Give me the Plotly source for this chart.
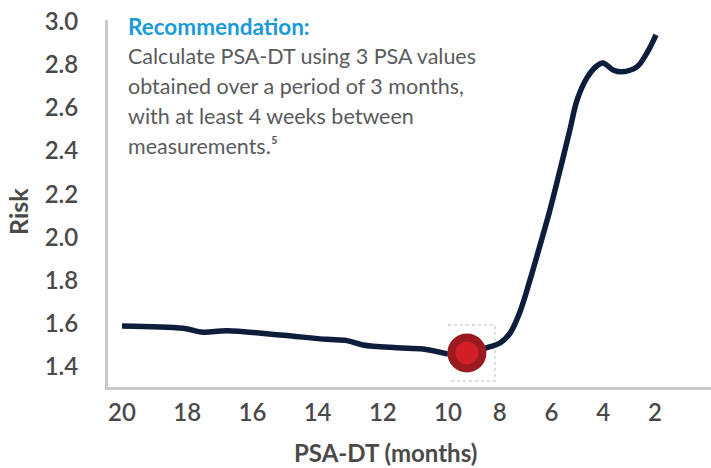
import plotly.graph_objects as go

# ---------------- data ----------------
months = [20.0, 18.13, 17.52, 16.78, 15.15, 13.71, 13.10, 12.61, 11.56, 10.77,
          10.0, 9.27, 8.38, 7.99, 7.60, 7.22, 6.83, 6.44, 6.06, 5.67, 5.29,
          5.01, 4.63, 4.24, 4.01, 3.62, 3.28, 2.70, 2.31, 1.96]
risk = [1.590, 1.579, 1.561, 1.568, 1.548, 1.528, 1.522, 1.502, 1.489, 1.483,
        1.460, 1.465, 1.494, 1.511, 1.557, 1.655, 1.803, 1.965, 2.127, 2.312, 2.497,
        2.636, 2.738, 2.794, 2.807, 2.775, 2.766, 2.789, 2.854, 2.937]

marker_month = [9.27]
marker_risk = [1.465]

x_ticks_left = [20, 18, 16, 14, 12, 10]
x_ticks_right = [8, 6, 4, 2]
y_ticks = [1.4, 1.6, 1.8, 2.0, 2.2, 2.4, 2.6, 2.8, 3.0]
y_tick_labels = ["1.4", "1.6", "1.8", "2.0", "2.2", "2.4", "2.6", "2.8", "3.0"]

x_title = "PSA-DT (months)"
y_title = "Risk"
rec_title = "Recommendation:"
rec_lines = ["Calculate PSA-DT using 3 PSA values",
             "obtained over a period of 3 months,",
             "with at least 4 weeks between",
             "measurements.\u2075"]

# ---------------- styling ----------------
W, H = 711, 468
L, R, T, B = 108, 0, 20, 81
PW, PH = W - L - R, H - T - B
NAVY = "#0c1e3b"
AXIS = "#c9c9c9"
TXT = "#4a4a4a"
BODY = "#5a5b5d"
BLUE = "#1b9ad8"
FONT = "Lato"
split = (448 - L) / PW  # x position where the axis scale changes (month 10)

split_month = 10.0
left_m = [m for m in months if m >= split_month]
left_r = [r for m, r in zip(months, risk) if m >= split_month]
right_m = [m for m in months if m <= split_month]
right_r = [r for m, r in zip(months, risk) if m <= split_month]

fig = go.Figure()
line_style = dict(color=NAVY, width=5.5, shape="spline", smoothing=1.0)
fig.add_trace(go.Scatter(x=left_m, y=left_r, xaxis="x", yaxis="y", mode="lines",
                         line=line_style, hoverinfo="skip", showlegend=False, cliponaxis=False))
fig.add_trace(go.Scatter(x=right_m, y=right_r, xaxis="x2", yaxis="y", mode="lines",
                         line=line_style, hoverinfo="skip", showlegend=False, cliponaxis=False))
fig.add_trace(go.Scatter(x=marker_month, y=marker_risk, xaxis="x2", yaxis="y", mode="markers",
                         marker=dict(size=31, color="#d21f27", line=dict(color="#9b1a1f", width=8)),
                         hoverinfo="skip", showlegend=False, cliponaxis=False))

tickfont = dict(family=FONT, size=24, color=TXT, weight=600)
common_x = dict(showline=True, linecolor=AXIS, linewidth=3, showgrid=False, zeroline=False,
                ticks="", tickfont=tickfont, ticklabelstandoff=2, anchor="y", fixedrange=True,
                automargin=False)
fig.update_layout(
    width=W, height=H, autosize=False,
    margin=dict(l=L, r=R, t=T, b=B, autoexpand=False),
    paper_bgcolor="white", plot_bgcolor="white",
    showlegend=False,
    xaxis=dict(domain=[0, split], range=[20 + (122 - L) / 32.6, split_month],
               tickvals=x_ticks_left, ticktext=[str(v) for v in x_ticks_left], **common_x),
    xaxis2=dict(domain=[split, 1], range=[split_month, split_month - (W - R - 448) / 25.875],
                tickvals=x_ticks_right, ticktext=[str(v) for v in x_ticks_right], **common_x),
    yaxis=dict(domain=[0, 1], range=[1.3074, 3.006], tickvals=y_ticks, ticktext=y_tick_labels,
               showline=True, linecolor=AXIS, linewidth=3, showgrid=False, zeroline=False,
               ticks="", tickfont=tickfont, ticklabelstandoff=22, anchor="x", fixedrange=True,
               automargin=False),
)

fig.add_shape(type="rect", xref="x2", yref="y", xsizemode="pixel", ysizemode="pixel",
              xanchor=marker_month[0], yanchor=marker_risk[0], x0=-28, x1=28, y0=-28, y1=28,
              line=dict(color="#d4d4d4", width=1.5, dash="dot"), layer="below")

def py(pix):
    return (H - B - pix) / PH

def px(pix):
    return (pix - L) / PW

ann = []
ann.append(dict(text=rec_title, x=px(126), y=py(27), xanchor="left", yanchor="middle",
                font=dict(family=FONT, size=22.5, color=BLUE, weight="bold")))
for i, line in enumerate(rec_lines):
    ann.append(dict(text=line, x=px(126), y=py(56 + i * 30), xanchor="left", yanchor="middle",
                    font=dict(family=FONT, size=21.5, color=BODY)))
ann.append(dict(text=y_title, x=px(18), y=py(212), xanchor="center", yanchor="middle",
                textangle=-90, font=dict(family=FONT, size=25, color=TXT, weight="bold")))
ann.append(dict(text=x_title, x=px(385), y=py(452), xanchor="center", yanchor="middle",
                font=dict(family=FONT, size=24, color=TXT, weight="bold")))
for a in ann:
    a.update(xref="paper", yref="paper", showarrow=False)
fig.update_layout(annotations=ann)

fig.write_html("out.html",
               config={"responsive": False, "displayModeBar": False, "staticPlot": True},
               post_script="document.body.style.margin='0';document.body.style.padding='0';"
                           "document.body.style.overflow='hidden';")
